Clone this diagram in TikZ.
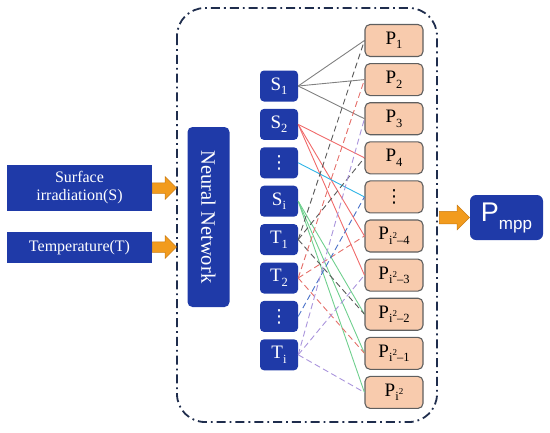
\documentclass[tikz,border=0pt]{standalone}
\usepackage{fontspec}
\setmainfont{Liberation Serif}
\setsansfont{Liberation Sans}
\newfontfamily\dejavu{DejaVu Sans}
\usetikzlibrary{shapes.arrows}
\definecolor{nblue}{HTML}{1F3AA8}
\definecolor{peach}{HTML}{F8CBAD}
\definecolor{pedge}{HTML}{5F5F5F}
\definecolor{orng}{HTML}{F29B1D}
\definecolor{orngd}{HTML}{C97A10}
\definecolor{navy}{HTML}{1F2D4D}
\definecolor{lgray}{HTML}{808080}
\definecolor{lred}{HTML}{F06A6A}
\definecolor{lcyan}{HTML}{2EB4E6}
\definecolor{lgreen}{HTML}{6FCF8E}
\definecolor{dgray}{HTML}{5A5A5A}
\definecolor{dred}{HTML}{E5706A}
\definecolor{dblue}{HTML}{4A72C8}
\definecolor{dpurple}{HTML}{A994DC}
\newcommand\psub[1]{\raisebox{-4.5pt}{\fontsize{12.5}{12.5}\selectfont #1}}
\newcommand\psq[1]{\psub{i\raisebox{6pt}{\fontsize{9}{9}\selectfont 2}#1}}
\newcommand\vdts{{\dejavu\fontsize{18}{18}\selectfont ⋮}}
\tikzset{
 inbox/.style={fill=nblue, text=white, minimum width=38pt, minimum height=31pt, rounded corners=4pt, font=\fontsize{19}{19}\selectfont, inner sep=0pt},
 pbox/.style={fill=peach, draw=pedge, line width=1.1pt, minimum width=58pt, minimum height=32pt, rounded corners=5pt, font=\fontsize{19}{19}\selectfont, inner sep=0pt},
 leftbox/.style={fill=nblue, text=white, minimum width=145pt, font=\fontsize{16}{18}\selectfont, align=center, inner sep=0pt},
 barrow/.style={single arrow, fill=orng, draw=orngd, line width=0.5pt, inner xsep=0pt, inner ysep=5pt, single arrow head extend=6pt, minimum height=24pt},
 conn/.style={line width=0.9pt},
 dconn/.style={line width=0.9pt, dash pattern=on 6pt off 3.5pt}
}
\begin{document}
\begin{tikzpicture}[x=1pt,y=-1pt]
\useasboundingbox (0,0) rectangle (550,432);
% dashed frame
\draw[navy, line width=1.8pt, rounded corners=28pt, dash pattern=on 9pt off 4pt on 1.8pt off 4pt] (177,8) rectangle (437,422);
% left inputs
\node[leftbox, minimum height=46pt] (surf) at (79.5,188) {Surface\\irradiation(S)};
\node[leftbox, minimum height=31pt] (temp) at (79.5,247.5) {Temperature(T)};
\node[barrow, anchor=tail] (a1) at (surf.east) {};
\node[barrow, anchor=tail] (a2) at ([yshift=0.5pt]temp.east) {};
% neural network
\node[fill=nblue, text=white, minimum width=42pt, minimum height=180pt, rounded corners=5pt, inner sep=0pt] (nn) at (208.5,217) {\rotatebox{-90}{\fontsize{20.5}{20.5}\selectfont Neural Network}};
% S/T column
\node[inbox] (s1) at (279,86) {S\psub{1}};
\node[inbox] (s2) at (279,124.4) {S\psub{2}};
\node[inbox] (sd) at (279,162.8) {\vdts};
\node[inbox] (si) at (279,201.2) {S\psub{i}};
\node[inbox] (t1) at (279,239.6) {T\psub{1}};
\node[inbox] (t2) at (279,278) {T\psub{2}};
\node[inbox] (td) at (279,316.4) {\vdts};
\node[inbox] (ti) at (279,354.8) {T\psub{i}};
% P column
\node[pbox] (q1) at (394,40.5) {P\psub{1}};
\node[pbox] (q2) at (394,79.6) {P\psub{2}};
\node[pbox] (q3) at (394,118.7) {P\psub{3}};
\node[pbox] (q4) at (394,157.8) {P\psub{4}};
\node[pbox] (q5) at (394,196.9) {\vdts};
\node[pbox] (q6) at (394,236) {P\psq{–4}};
\node[pbox] (q7) at (394,275.1) {P\psq{–3}};
\node[pbox] (q8) at (394,314.2) {P\psq{–2}};
\node[pbox] (q9) at (394,353.3) {P\psq{–1}};
\node[pbox] (q10) at (394,392.4) {P\psq{}};
% output
\node[fill=nblue, text=white, minimum width=73pt, minimum height=45pt, rounded corners=6pt, inner sep=0pt] (pm) at (506.5,217.5) {\sffamily\fontsize{27}{27}\selectfont P\raisebox{-8pt}{\fontsize{17}{17}\selectfont mpp}};
\node[barrow, anchor=tip, minimum height=30pt, inner ysep=6pt] (a3) at (pm.west) {};
% connectors
\foreach \q in {q1,q2,q3} \draw[conn, lgray] (s1.east) -- (\q.west);
\foreach \q in {q4,q6,q7} \draw[conn, lred] (s2.east) -- (\q.west);
\draw[conn, lcyan] (sd.east) -- (q5.west);
\foreach \q in {q8,q9,q10} \draw[conn, lgreen] (si.east) -- (\q.west);
\foreach \q in {q1,q4,q8} \draw[dconn, dgray] (t1.east) -- (\q.west);
\foreach \q in {q2,q6,q9} \draw[dconn, dred] (t2.east) -- (\q.west);
\draw[dconn, dblue] (td.east) -- (q5.west);
\foreach \q in {q3,q7,q10} \draw[dconn, dpurple] (ti.east) -- (\q.west);
\end{tikzpicture}
\end{document}
